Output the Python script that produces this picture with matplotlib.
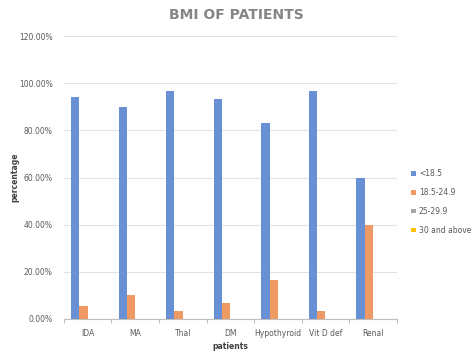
import matplotlib
matplotlib.use("Agg")
import matplotlib.pyplot as plt
import numpy as np
from matplotlib.ticker import FuncFormatter, MultipleLocator

categories = ["IDA", "MA", "Thal", "DM", "Hypothyroid", "Vit D def", "Renal"]
series_names = ["<18.5", "18.5-24.9", "25-29.9", "30 and above"]
under_18_5 = [94.3, 90.0, 96.6, 93.3, 83.3, 96.8, 60.0]
normal_18_5_24_9 = [5.7, 10.0, 3.4, 6.7, 16.7, 3.2, 40.0]
over_25_29_9 = [0, 0, 0, 0, 0, 0, 0]
above_30 = [0, 0, 0, 0, 0, 0, 0]
series_values = [under_18_5, normal_18_5_24_9, over_25_29_9, above_30]
colors = ["#6890D4", "#EE9A62", "#A5A5A5", "#FFC000"]

fig = plt.figure(figsize=(4.73, 3.54), dpi=100)
ax = fig.add_axes([0.135, 0.099, 0.704, 0.799])

x = np.arange(len(categories))
w = 0.175
for i, (name, vals, c) in enumerate(zip(series_names, series_values, colors)):
    ax.bar(x + (i - 1.5) * w, vals, width=w, color=c, label=name, zorder=3)

ax.set_xlim(-0.5, len(categories) - 0.5)
ax.set_ylim(0, 120)
ax.yaxis.set_major_locator(MultipleLocator(20))
ax.yaxis.set_major_formatter(FuncFormatter(lambda v, p: f"{v:.2f}%"))
ax.grid(axis="y", color="#E2E2E2", linewidth=0.8, zorder=0)
for s in ["top", "right", "left"]:
    ax.spines[s].set_visible(False)
ax.spines["bottom"].set_color("#BFBFBF")
ax.spines["bottom"].set_linewidth(0.8)

ax.set_xticks(x)
ax.set_xticklabels(categories)
ax.set_xticks(np.arange(-0.5, len(categories), 1), minor=True)
ax.tick_params(axis="x", which="major", length=0, labelsize=5.5, labelcolor="#595959", pad=7)
ax.tick_params(axis="x", which="minor", length=3, color="#BFBFBF", width=0.8)
ax.tick_params(axis="y", length=0, labelsize=5.5, labelcolor="#595959", pad=8)

ax.set_xlabel("patients", fontsize=5.5, fontweight="bold", color="#404040", labelpad=3)
ax.set_ylabel("percentage", fontsize=5.5, fontweight="bold", color="#404040")
ax.yaxis.set_label_coords(-0.135, 0.5)

fig.text(0.5, 0.957, "BMI OF PATIENTS", ha="center", va="center",
         fontsize=10, fontweight="bold", color="#858585")

leg = fig.legend(loc="center left", bbox_to_anchor=(0.855, 0.43), frameon=False,
                 fontsize=5.5, handlelength=0.6, handleheight=0.6, handletextpad=0.4,
                 labelspacing=1.3, labelcolor="#595959")

fig.savefig("out.png", dpi=100)
